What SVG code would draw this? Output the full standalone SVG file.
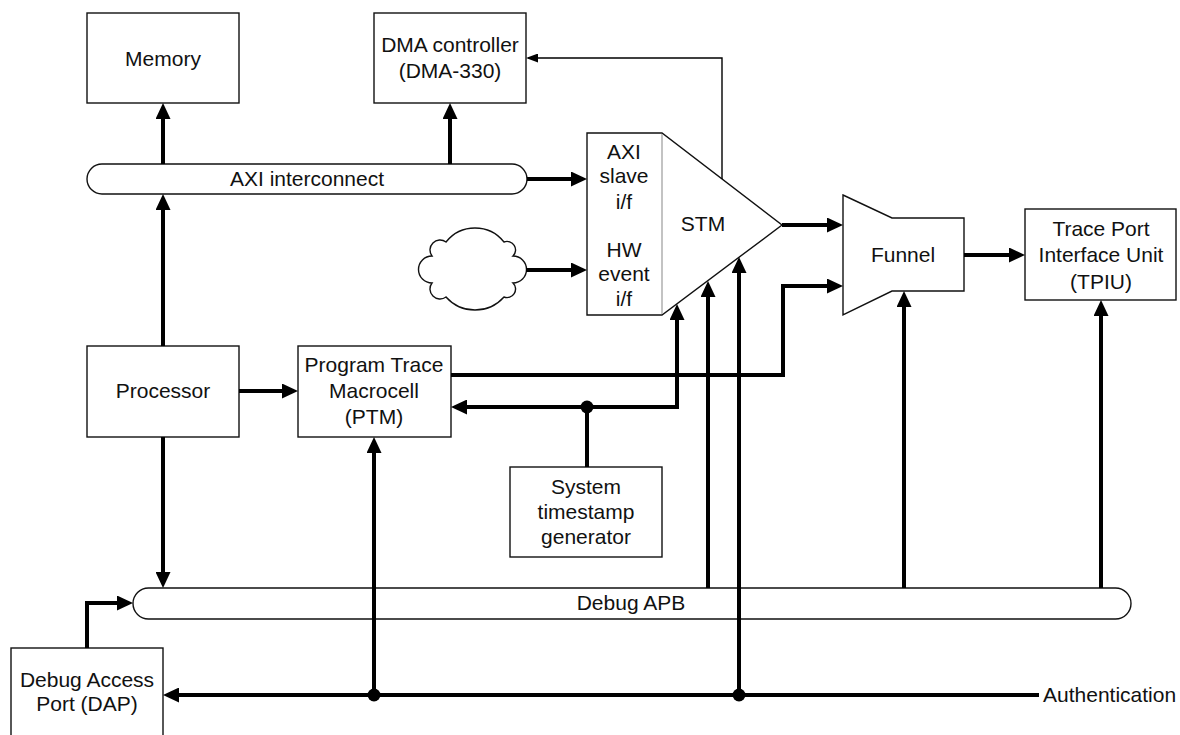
<svg xmlns="http://www.w3.org/2000/svg" width="1180" height="735" viewBox="0 0 1180 735">
<style>
.box{fill:#fff;stroke:#111;stroke-width:1.4}
.t{font-family:"Liberation Sans",Arial,sans-serif;font-size:21px;fill:#111;text-anchor:middle}
.w{fill:none;stroke:#000;stroke-width:4;stroke-linejoin:miter}
.thin{fill:none;stroke:#000;stroke-width:1.4}
</style>
<defs>
<marker id="ah" viewBox="0 0 16 15" refX="11" refY="7.5" markerWidth="16" markerHeight="15" markerUnits="userSpaceOnUse" orient="auto"><path d="M0 0 L16 7.5 L0 15 Z" fill="#000"/></marker>
<marker id="ahs" viewBox="0 0 12 9" refX="10" refY="4.5" markerWidth="12" markerHeight="9" markerUnits="userSpaceOnUse" orient="auto"><path d="M0 0 L12 4.5 L0 9 Z" fill="#000"/></marker>
</defs>
<rect width="1180" height="735" fill="#fff"/>

<g id="memory"><rect class="box" x="87" y="13" width="152" height="90"/><text class="t" x="163" y="66">Memory</text></g>
<g id="dma"><rect class="box" x="374" y="13" width="152" height="90"/><text class="t" x="450" y="52">DMA controller</text><text class="t" x="450" y="78">(DMA-330)</text></g>
<g id="axi"><rect class="box" x="87" y="164" width="440" height="30" rx="15"/><text class="t" x="307" y="186">AXI interconnect</text></g>
<g id="stm"><path class="box" d="M587 133 H662 L782 225 L662 315 H587 Z"/><line x1="662" y1="134" x2="662" y2="314" stroke="#aaa" stroke-width="1.4"/>
<text class="t" x="624" y="159">AXI</text><text class="t" x="624" y="183">slave</text><text class="t" x="624" y="209">i/f</text>
<text class="t" x="624" y="257">HW</text><text class="t" x="624" y="281">event</text><text class="t" x="624" y="306">i/f</text>
<text class="t" x="703" y="231">STM</text></g>
<g id="cloud"><path class="box" d="M432 256 A10 10 0 0 1 446 242 A37 37 0 0 1 504 242 A8.5 8.5 0 0 1 513 256 A13.5 13.5 0 0 1 513 283 A8.5 8.5 0 0 1 504 297 A38.8 38.8 0 0 1 446 297 A10 10 0 0 1 432 283 A13.5 13.5 0 0 1 432 256 Z"/></g>
<g id="funnel"><path class="box" d="M843 195 L892 218 H964 V291 H892 L843 315 Z"/><text class="t" x="903" y="262">Funnel</text></g>
<g id="tpiu"><rect class="box" x="1025" y="209" width="151" height="91"/><text class="t" x="1101" y="236">Trace Port</text><text class="t" x="1101" y="262">Interface Unit</text><text class="t" x="1101" y="289">(TPIU)</text></g>
<g id="processor"><rect class="box" x="87" y="346" width="152" height="91"/><text class="t" x="163" y="398">Processor</text></g>
<g id="ptm"><rect class="box" x="298" y="346" width="153" height="91"/><text class="t" x="374" y="372">Program Trace</text><text class="t" x="374" y="398">Macrocell</text><text class="t" x="374" y="424">(PTM)</text></g>
<g id="timestamp"><rect class="box" x="510" y="467" width="152" height="90"/><text class="t" x="586" y="494">System</text><text class="t" x="586" y="519">timestamp</text><text class="t" x="586" y="544">generator</text></g>
<g id="debugapb"><rect class="box" x="133" y="588" width="998" height="31" rx="15.5"/><text class="t" x="631" y="610">Debug APB</text></g>
<g id="dap"><rect class="box" x="11" y="648" width="152" height="92"/><text class="t" x="87" y="687">Debug Access</text><text class="t" x="87" y="711">Port (DAP)</text></g>
<g id="authentication"><text class="t" x="1043" y="702" style="text-anchor:start">Authentication</text></g>

<g id="connectors">
<path class="w" d="M163 346 V199" marker-end="url(#ah)"/>
<path class="w" d="M163 164 V108" marker-end="url(#ah)"/>
<path class="w" d="M450 164 V108" marker-end="url(#ah)"/>
<path class="w" d="M527 179 H582" marker-end="url(#ah)"/>
<path class="w" d="M526 270 H582" marker-end="url(#ah)"/>
<path class="thin" d="M722 179 V58 H528" marker-end="url(#ahs)"/>
<path class="w" d="M782 225 H838" marker-end="url(#ah)"/>
<path class="w" d="M451 375 H783 V286 H838" marker-end="url(#ah)"/>
<path class="w" d="M587 467 V407 H456" marker-end="url(#ah)"/>
<path class="w" d="M587 407 H677 V309" marker-end="url(#ah)"/>
<path class="w" d="M239 391 H293" marker-end="url(#ah)"/>
<path class="w" d="M163 437 V583" marker-end="url(#ah)"/>
<path class="w" d="M87 648 V603 H128" marker-end="url(#ah)"/>
<path class="w" d="M374 695 V442" marker-end="url(#ah)"/>
<path class="w" d="M708 588 V286" marker-end="url(#ah)"/>
<path class="w" d="M739 695 V262" marker-end="url(#ah)"/>
<path class="w" d="M904 588 V296" marker-end="url(#ah)"/>
<path class="w" d="M1101 588 V305" marker-end="url(#ah)"/>
<path class="w" d="M964 255 H1020" marker-end="url(#ah)"/>
<path class="w" d="M1039 695 H168" marker-end="url(#ah)"/>
<circle cx="587" cy="407" r="6.5"/>
<circle cx="374" cy="695" r="6.5"/>
<circle cx="739" cy="695" r="6.5"/>
</g>
</svg>
